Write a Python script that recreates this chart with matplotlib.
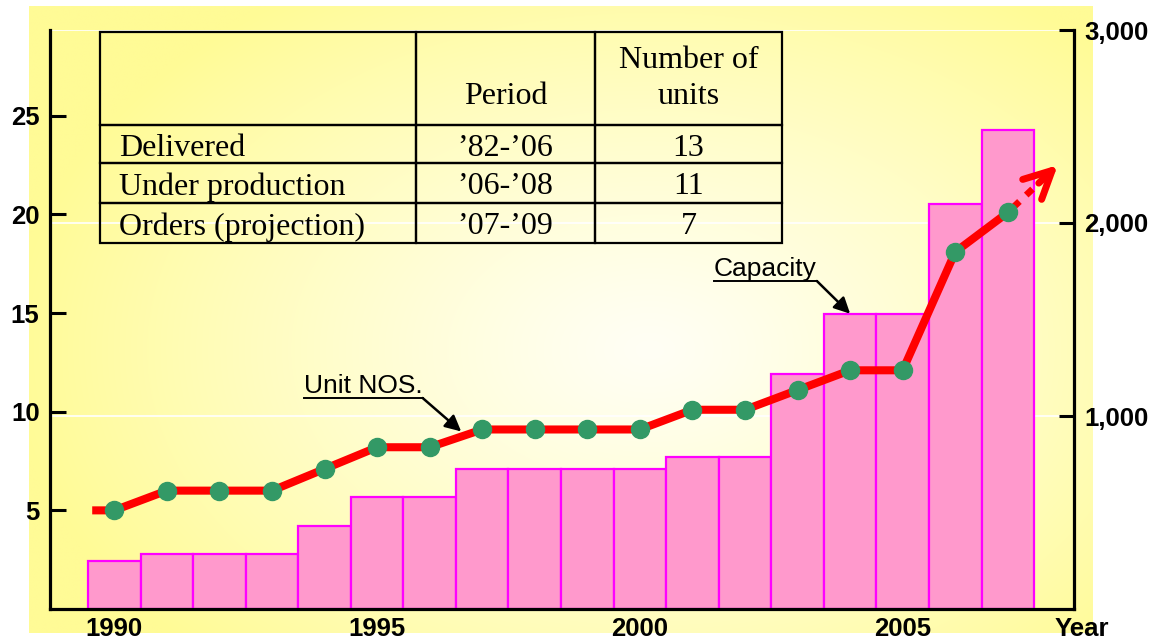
import numpy as np
import matplotlib
matplotlib.use("Agg")
import matplotlib.pyplot as plt
from matplotlib.lines import Line2D
from matplotlib.patches import Rectangle
from matplotlib.transforms import IdentityTransform

# ---------------- data ----------------
years = list(range(1990, 2008))
capacity = [250, 285, 285, 285, 430, 580, 580, 725, 725, 725, 725, 790, 790,
            1220, 1530, 1530, 2100, 2480]
unit_nos = [5, 6, 6, 6, 7.1, 8.2, 8.2, 9.1, 9.1, 9.1, 9.1, 10.1, 10.1,
            11.1, 12.1, 12.1, 18.1, 20.1]
proj_year, proj_nos = 2007.95, 22.5

xtick_years = [1990, 1995, 2000, 2005]
left_ticks = [5, 10, 15, 20, 25]
right_ticks = [1000, 2000, 3000]
right_tick_labels = ["1,000", "2,000", "3,000"]

tbl_header = ["", "Period", "Number of\nunits"]
tbl_rows = ["Delivered", "Under production", "Orders (projection)"]
tbl_period = ["\u201982-\u201906", "\u201906-\u201908", "\u201907-\u201909"]
tbl_units = [13, 11, 7]

# ---------------- figure ----------------
W, H = 1158, 640
fig = plt.figure(figsize=(W / 100, H / 100), dpi=100)
fig.patch.set_facecolor("white")


def fx(x):
    return x / W


def fy(y):
    return 1 - y / H


# background radial gradient
bx0, by0, bx1, by1 = 29, 6, 1093, 633
bg = fig.add_axes([fx(bx0), fy(by1), (bx1 - bx0) / W, (by1 - by0) / H])
bg.axis("off")
xs = np.linspace(bx0, bx1, 500)
ys = np.linspace(by0, by1, 300)
X, Y = np.meshgrid(xs, ys)
r = np.sqrt(((X - 650) / 640) ** 2 + ((Y - 350) / 430) ** 2)
t = np.clip(r, 0, 1) ** 1.2
c0 = np.array([255, 255, 245]) / 255
c1 = np.array([255, 251, 150]) / 255
img = c0 * (1 - t[..., None]) + c1 * t[..., None]
bg.imshow(img, aspect="auto", interpolation="bilinear")

pos = [fx(50), fy(609), (1074 - 50) / W, (609 - 30) / H]
xlim = (1988.777, 2008.259)

tickfont = dict(family="Liberation Sans", weight="bold", size=18.5)

# bars (right scale)
axb = fig.add_axes(pos)
axb.patch.set_visible(False)
axb.bar(years, capacity, width=1.0, align="center", facecolor="#FF99CC",
        edgecolor="#FF00FF", linewidth=1.6, zorder=2)
axb.set_xlim(*xlim)
axb.set_ylim(0, 3000)
axb.yaxis.tick_right()
axb.set_yticks(right_ticks)
axb.set_yticklabels(right_tick_labels, fontdict=tickfont)
axb.set_xticks(xtick_years)
axb.set_xticklabels([str(y) for y in xtick_years], fontdict=tickfont)
axb.tick_params(axis="x", length=0, pad=5.5)
axb.tick_params(axis="y", direction="in", length=10.5, width=2.2, pad=7.5)
axb.set_axisbelow(True)
axb.yaxis.grid(True, color="white", linewidth=1.2, zorder=0)
for s in ["left", "top"]:
    axb.spines[s].set_visible(False)
for s in ["right", "bottom"]:
    axb.spines[s].set_linewidth(2.3)

# line (left scale)
axl = fig.add_axes(pos)
axl.patch.set_visible(False)
line_x = [years[0] - 0.42] + years
line_y = [unit_nos[0]] + unit_nos
axl.plot(line_x, line_y, color="red", lw=5.8, solid_joinstyle="miter",
         solid_capstyle="butt", zorder=3)
axl.plot(years, unit_nos, linestyle="none", marker="o", markersize=13,
         markerfacecolor="#339966", markeredgecolor="#339966", zorder=4)
# projection (dotted then arrowhead)
frac = 0.62
mid_x = years[-1] + frac * (proj_year - years[-1])
mid_y = unit_nos[-1] + frac * (proj_nos - unit_nos[-1])
axl.plot([years[-1], mid_x], [unit_nos[-1], mid_y], color="red", lw=4.8,
         linestyle=(1.6, (1.3, 1.4)), dash_capstyle="butt", zorder=3)
axl.annotate("", xy=(proj_year, proj_nos), xytext=(mid_x, mid_y),
             arrowprops=dict(arrowstyle="->,head_length=0.9,head_width=0.45",
                             color="red", lw=5.0, mutation_scale=22,
                             shrinkA=0, shrinkB=0, capstyle="round",
                             joinstyle="round"), zorder=3)
axl.set_xlim(*xlim)
axl.set_ylim(0, 29.35)
axl.set_yticks(left_ticks)
axl.set_yticklabels([str(v) for v in left_ticks], fontdict=tickfont)
axl.tick_params(axis="y", direction="in", length=11.5, width=2.2, pad=7.5)
axl.set_xticks([])
for s in ["right", "top", "bottom"]:
    axl.spines[s].set_visible(False)
axl.spines["left"].set_linewidth(2.3)

# Year label
fig.text(fx(1082), fy(629), "Year", ha="center", va="center", **{
    "family": "Liberation Sans", "weight": "bold", "size": 18.5})

# ---------------- table ----------------
col_x = [100, 416, 595, 782]
row_y = [32, 125, 163, 203, 243]
serif = dict(family="Liberation Serif", size=23)
for i in range(len(row_y) - 1):
    for j in range(len(col_x) - 1):
        fig.add_artist(Rectangle((fx(col_x[j]), fy(row_y[i + 1])),
                                 (col_x[j + 1] - col_x[j]) / W,
                                 (row_y[i + 1] - row_y[i]) / H,
                                 fill=False, edgecolor="black", linewidth=1.6,
                                 transform=fig.transFigure))
# header (bottom aligned lines)
for j, txt in enumerate(tbl_header):
    lines = txt.split("\n") if txt else []
    cx = (col_x[j] + col_x[j + 1]) / 2
    for k, ln in enumerate(reversed(lines)):
        fig.text(fx(cx), fy(96 - 36 * k), ln, ha="center", va="center", **serif)
for i in range(len(tbl_rows)):
    cy = (row_y[i + 1] + row_y[i + 2]) / 2 + 4
    fig.text(fx(col_x[0] + 19), fy(cy), tbl_rows[i], ha="left", va="center", **serif)
    fig.text(fx((col_x[1] + col_x[2]) / 2), fy(cy), tbl_period[i], ha="center",
             va="center", **serif)
    fig.text(fx((col_x[2] + col_x[3]) / 2), fy(cy), str(tbl_units[i]), ha="center",
             va="center", **serif)

# ---------------- annotations ----------------
annfont = dict(family="Liberation Sans", size=19)
t_cap = fig.text(fx(714), fy(281), "Capacity", ha="left", va="bottom", **annfont)
t_nos = fig.text(fx(304), fy(398), "Unit NOS.", ha="left", va="bottom", **annfont)

fig.canvas.draw()
renderer = fig.canvas.get_renderer()
targets = [(t_cap, axb, (years[14], capacity[14])),
           (t_nos, axl, (1996.6, 9.0))]
for txt, ax, xy in targets:
    bb = txt.get_window_extent(renderer)
    fig.add_artist(Line2D([bb.x0, bb.x1], [bb.y0, bb.y0], color="black",
                          lw=1.4, transform=IdentityTransform()))
    ax.annotate("", xy=xy, xycoords="data", xytext=(bb.x1, bb.y0),
                textcoords="figure pixels",
                arrowprops=dict(arrowstyle="-|>,head_length=0.6,head_width=0.3",
                                color="black", lw=1.8, mutation_scale=16,
                                shrinkA=0, shrinkB=0))

fig.savefig("out.png", dpi=100)
